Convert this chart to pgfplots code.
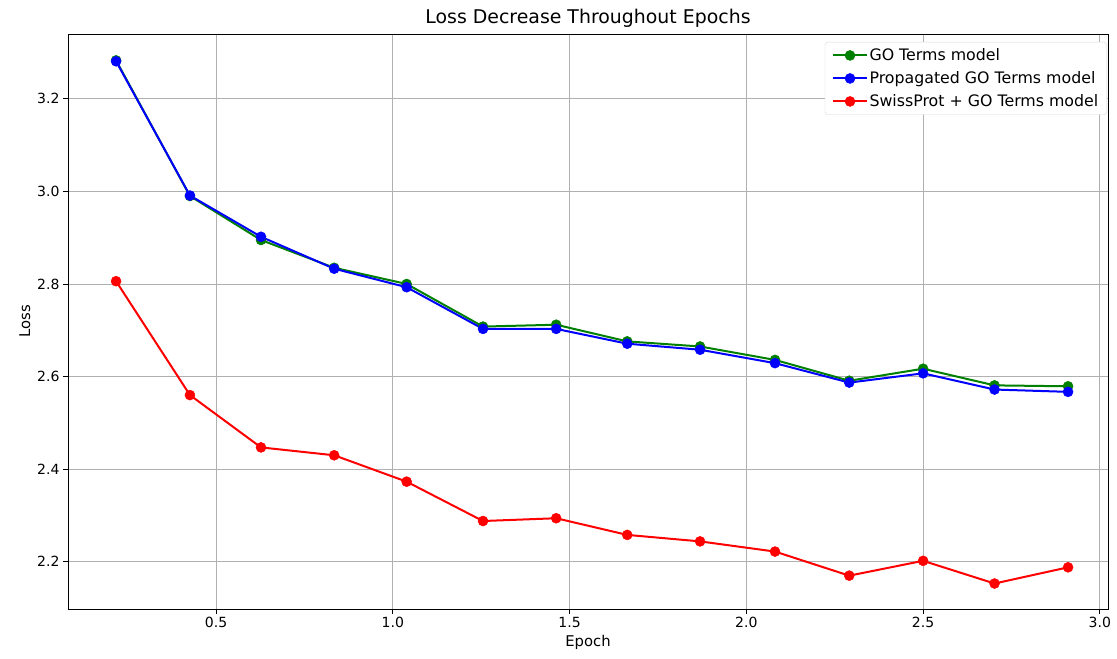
\documentclass[border=0pt]{standalone}
\usepackage{pgfplots}
\pgfplotsset{compat=1.18}
\usepackage{fontspec}
\setmainfont{DejaVu Sans}
\definecolor{mplgreen}{RGB}{0,128,0}
\definecolor{gridgray}{RGB}{176,176,176}
\begin{document}
\begin{tikzpicture}
\begin{axis}[
  scale only axis,
  width=1040pt, height=575pt,
  xmin=0.081, xmax=3.023,
  ymin=2.098, ymax=3.340,
  xtick={0.5,1.0,1.5,2.0,2.5,3.0},
  ytick={2.2,2.4,2.6,2.8,3.0,3.2},
  xticklabel style={/pgf/number format/.cd,fixed,fixed zerofill,precision=1},
  yticklabel style={/pgf/number format/.cd,fixed,fixed zerofill,precision=1},
  /pgf/number format/assume math mode=true,
  tick label style={font=\fontsize{14}{16}\selectfont},
  label style={font=\fontsize{14.8}{17}\selectfont},
  title style={font=\fontsize{18.9}{22}\selectfont, yshift=-3pt},
  title={Loss Decrease Throughout Epochs},
  xlabel={Epoch}, ylabel={Loss},
  grid=major,
  major grid style={gridgray, line width=0.8pt},
  tick align=outside,
  major tick length=5pt,
  tick style={black, line width=0.8pt},
  axis line style={line width=0.8pt},
  xtick pos=bottom, ytick pos=left,
  legend style={at={(rel axis cs:1,1)}, anchor=north east, xshift=-1pt, yshift=-8pt,
    draw=gray!30, rounded corners=3pt, font=\fontsize{15.8}{18}\selectfont,
    row sep=6.5pt, inner xsep=7pt, inner ysep=5pt,
    nodes={inner sep=1.5pt}},
  legend cell align=left,
  legend image code/.code={
    \draw[#1, mark=none] (0cm,0cm) -- (34pt,0cm);
    \draw[#1, only marks] plot coordinates {(17pt,0cm)};
  },
]
\addplot[color=mplgreen, line width=2pt, mark=*, mark size=5pt, mark options={fill=mplgreen, draw=mplgreen, line width=0.5pt}] coordinates {
(0.217,3.283) (0.426,2.990) (0.627,2.895) (0.834,2.835) (1.039,2.800) (1.255,2.708) (1.462,2.712)
(1.663,2.676) (1.869,2.665) (2.081,2.636) (2.291,2.591) (2.500,2.617) (2.702,2.581) (2.910,2.579)};
\addlegendentry{GO Terms model}
\addplot[color=blue, line width=2pt, mark=*, mark size=5pt, mark options={fill=blue, draw=blue, line width=0.5pt}] coordinates {
(0.217,3.281) (0.426,2.991) (0.627,2.902) (0.834,2.833) (1.039,2.793) (1.255,2.703) (1.462,2.703)
(1.663,2.671) (1.869,2.658) (2.081,2.629) (2.291,2.587) (2.500,2.607) (2.702,2.572) (2.910,2.567)};
\addlegendentry{Propagated GO Terms model}
\addplot[color=red, line width=2pt, mark=*, mark size=5pt, mark options={fill=red, draw=red, line width=0.5pt}] coordinates {
(0.217,2.806) (0.426,2.560) (0.627,2.447) (0.834,2.430) (1.039,2.373) (1.255,2.288) (1.462,2.294)
(1.663,2.258) (1.869,2.244) (2.081,2.222) (2.291,2.170) (2.500,2.202) (2.702,2.153) (2.910,2.188)};
\addlegendentry{SwissProt + GO Terms model}
\end{axis}
\path ([xshift=-68pt,yshift=-50pt]current axis.south west) rectangle ([xshift=9pt,yshift=34pt]current axis.north east);
\end{tikzpicture}
\end{document}
